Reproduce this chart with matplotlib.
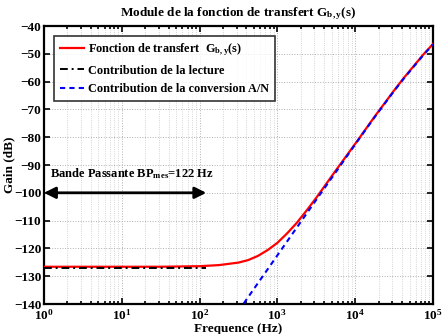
import numpy as np
import matplotlib
matplotlib.use('Agg')
import matplotlib.pyplot as plt
from matplotlib.ticker import LogLocator, NullFormatter

# ---------- data ----------
log_f_total = [0, 0.5, 1, 1.5, 2, 2.25, 2.5, 2.625, 2.75, 2.875, 3.0, 3.125,
               3.25, 3.375, 3.5, 3.75, 4.0, 4.25, 4.5, 4.625, 4.75, 4.875, 5.0]
gain_total = [-126.6, -126.6, -126.6, -126.6, -126.4, -126.0, -125.1, -124.2,
              -122.7, -120.6, -118.0, -114.6, -110.8, -106.4, -101.8, -92.0,
              -82.4, -72.6, -63.2, -58.7, -54.5, -50.3, -46.5]

log_f_read = [0, 1, 2, 2.086]
gain_read = [-127.0, -127.0, -127.0, -127.0]

log_f_adc = [2.5, 2.75, 3.0, 3.25, 3.5, 3.75, 4.0, 4.25, 4.5, 4.625, 4.75,
             4.875, 5.0]
gain_adc = [-142.5, -132.5, -122.5, -112.5, -102.5, -92.6, -82.6, -72.8,
            -63.4, -58.9, -54.7, -50.5, -46.6]

bp_freq = 122  # Hz

f_total = 10 ** np.array(log_f_total)
f_read = 10 ** np.array(log_f_read)
f_adc = 10 ** np.array(log_f_adc)

# ---------- style ----------
plt.rcParams['font.family'] = 'Liberation Serif'
plt.rcParams['font.weight'] = 'bold'
plt.rcParams['mathtext.fontset'] = 'custom'
plt.rcParams['mathtext.rm'] = 'Liberation Serif:bold'
plt.rcParams['mathtext.it'] = 'Liberation Serif:bold'
plt.rcParams['mathtext.bf'] = 'Liberation Serif:bold'
plt.rcParams['mathtext.default'] = 'rm'

fig = plt.figure(figsize=(4.43, 3.34), dpi=100)
ax = fig.add_axes([0.0993, 0.0898, 0.8780, 0.8323])

ax.semilogx(f_total, gain_total, color='#ff0000', lw=1.6, zorder=3,
            label=r'Fonction de transfert  G$_{b,y}$(s)')
ax.semilogx(f_read, gain_read, color='black', lw=1.4, ls=(0, (4, 2, 1, 2)),
            zorder=4, label='Contribution de la lecture')
ax.semilogx(f_adc, gain_adc, color='#0000ff', lw=1.5, ls=(0, (2.5, 2)),
            zorder=4, label='Contribution de la conversion A/N')

ax.set_xlim(1, 1e5)
ax.set_ylim(-140, -40)
ax.set_yticks(np.arange(-140, -39, 10))

ax.xaxis.set_major_locator(LogLocator(base=10, numticks=10))
ax.xaxis.set_minor_locator(LogLocator(base=10, subs=np.arange(2, 10), numticks=20))
ax.xaxis.set_minor_formatter(NullFormatter())

ax.grid(True, which='major', axis='both', ls=':', color='#b0b0b0', lw=0.7)
ax.grid(True, which='minor', axis='x', ls=':', color='#c8c8c8', lw=0.6)

ax.tick_params(which='both', direction='in', top=True, right=True,
               labelsize=9.5, width=1.2, pad=2)
ax.tick_params(axis='x', which='both', pad=3)
ax.tick_params(which='major', length=4)
ax.tick_params(which='minor', length=2)
for sp in ax.spines.values():
    sp.set_linewidth(1.6)

ax.set_xlabel('Frequence (Hz)', fontsize=9.5, fontweight='bold', labelpad=0.5)
ax.set_ylabel('Gain (dB)', fontsize=9.5, fontweight='bold')
ax.yaxis.set_label_coords(-0.075, 0.5)
ax.set_title(r'Module de la fonction de transfert G$_{b,y}$(s)',
             fontsize=9.5, fontweight='bold', pad=7)

# bandwidth arrow
ax.annotate('', xy=(1, -100), xytext=(bp_freq, -100),
            arrowprops=dict(arrowstyle='<|-|>', lw=2.0, color='black',
                            mutation_scale=17, shrinkA=0, shrinkB=0),
            zorder=5)
ax.text(1.2, -93, r'Bande Passante BP$_{mes}$=122 Hz', fontsize=9,
        fontweight='bold', ha='left', va='center')

leg = ax.legend(loc='upper left', bbox_to_anchor=(0.027, 0.965), fontsize=8.8,
                frameon=True, fancybox=False, edgecolor='black',
                handlelength=2.0, handletextpad=0.3, borderpad=0.45,
                labelspacing=0.55, borderaxespad=0)
leg.get_frame().set_linewidth(1.2)

fig.savefig('out.png', dpi=100, facecolor='white')
